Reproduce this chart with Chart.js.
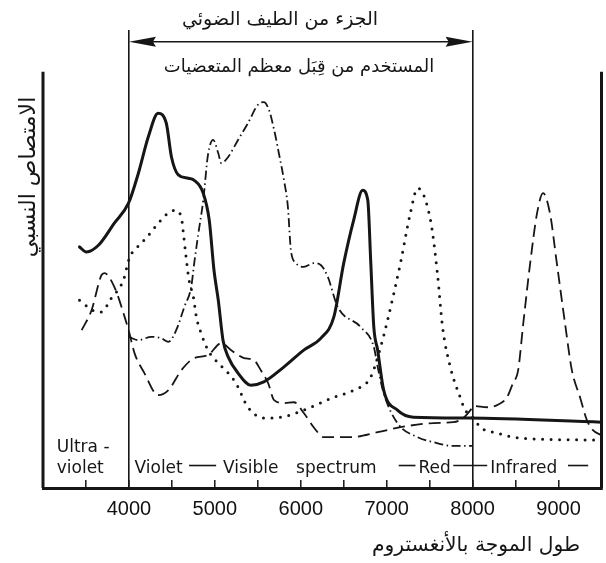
<!DOCTYPE html>
<html>
<head>
<meta charset="utf-8">
<script src="https://cdn.jsdelivr.net/npm/chart.js@4.4.0/dist/chart.umd.min.js"></script>
<style>
  html, body { margin: 0; padding: 0; background: #fff; }
  #wrap { width: 606px; height: 563px; }
</style>
</head>
<body>
<div id="wrap"><canvas id="chart" width="606" height="563"></canvas></div>
<script>
// wavelength in angstrom / relative absorption (0..100)
const solidX = [3425, 3505, 3645, 3830, 3995, 4110, 4225, 4340, 4435, 4495, 4575, 4690, 4760, 4865, 4935, 4990, 5040, 5095, 5155, 5270, 5420, 5570, 5805, 6035, 6235, 6385, 6500, 6615, 6720, 6780, 6815, 6850, 6895, 6965, 7125, 7310, 7940, 9500];
const solidY = [57.9, 56.7, 58.3, 63.6, 68.4, 75.6, 84.3, 90.0, 87.6, 79.5, 75.2, 74.4, 73.9, 70.8, 64.3, 52.3, 45.1, 35.5, 31.5, 27.6, 24.7, 25.5, 29.1, 33.1, 36.0, 41.1, 54.0, 64.3, 71.5, 69.1, 54.0, 38.7, 33.1, 23.5, 18.7, 17.0, 16.8, 15.8];

const dottedX = [3425, 3540, 3625, 3680, 3795, 3935, 4005, 4145, 4260, 4340, 4530, 4610, 4630, 4665, 4700, 4750, 4785, 4840, 4920, 5040, 5155, 5245, 5385, 5570, 5770, 6035, 6385, 6615, 6815, 6930, 7010, 7160, 7275, 7360, 7510, 7590, 7650, 7740, 7855, 7915, 8010, 8090, 8285, 8555, 9500];
const dottedY = [45.1, 43.2, 42.3, 42.3, 45.6, 49.9, 55.2, 58.8, 61.5, 63.6, 66.7, 65.1, 61.9, 55.5, 49.9, 45.9, 41.1, 37.2, 33.1, 30.0, 27.6, 25.2, 19.4, 16.8, 17.0, 18.7, 21.8, 23.5, 26.7, 33.9, 40.3, 54.0, 66.0, 72.0, 64.3, 51.6, 38.7, 29.1, 21.8, 18.7, 16.8, 14.6, 13.2, 12.0, 11.5];

const dashDotX = [4000, 4110, 4260, 4375, 4460, 4550, 4645, 4725, 4760, 4805, 4865, 4920, 4980, 5040, 5075, 5155, 5270, 5385, 5500, 5570, 5630, 5690, 5745, 5805, 5850, 5885, 5945, 6035, 6150, 6235, 6315, 6430, 6695, 6850, 6895, 6965, 7125, 7360, 7545, 7775, 8000];
const dashDotY = [36.3, 35.5, 36.3, 36.0, 35.1, 37.9, 43.5, 48.3, 54.0, 60.7, 69.1, 80.0, 83.6, 80.4, 78.0, 79.5, 83.6, 87.6, 92.0, 92.7, 90.8, 86.0, 80.4, 73.9, 67.5, 57.1, 54.0, 53.1, 54.0, 53.5, 50.7, 43.5, 38.7, 33.9, 29.1, 22.8, 15.6, 12.2, 11.0, 10.1, 10.1];

const dashedX = [3450, 3565, 3680, 3715, 3830, 3950, 4005, 4065, 4180, 4340, 4460, 4610, 4760, 4920, 5075, 5190, 5340, 5455, 5535, 5620, 5690, 5805, 5920, 6035, 6150, 6270, 6580, 6895, 7160, 7545, 7775, 7890, 7975, 8010, 8170, 8285, 8400, 8470, 8530, 8590, 8670, 8750, 8820, 8900, 8980, 9075, 9155, 9250, 9330, 9400, 9500];
const dashedY = [37.9, 42.7, 51.1, 51.6, 48.3, 41.1, 37.2, 32.4, 27.6, 22.3, 23.5, 28.3, 31.2, 31.9, 34.8, 33.1, 31.2, 30.7, 28.3, 25.2, 21.1, 20.4, 20.6, 18.0, 14.6, 12.2, 12.2, 13.4, 14.6, 15.6, 15.8, 16.8, 18.7, 19.7, 19.4, 19.9, 21.8, 25.2, 28.3, 39.6, 54.0, 66.0, 70.8, 66.0, 54.0, 39.6, 28.3, 21.8, 16.3, 13.9, 12.7];

const xTickLabels = [4000, 5000, 6000, 7000, 8000, 9000];
const bandEdges = [4000, 8000];
const frameTop = 100;
const arrowLevel = 107.2;

const titleText = 'الجزء من الطيف الضوئي';
const subtitleText = 'المستخدم من قِبَل معظم المتعضيات';
const yTitle = 'الامتصاص النسبي';
const xTitle = 'طول الموجة بالأنغستروم';

const ink = '#161616';
const arabicFont = '"DejaVu Sans", "Noto Sans", sans-serif';
const latinFont = '"DejaVu Sans", sans-serif';

function pts(xs, ys) {
  return xs.map((x, i) => ({ x: x, y: ys[i] }));
}

function curve(data, width, dash, cap) {
  return {
    data: data,
    borderColor: ink,
    borderWidth: width,
    borderDash: dash,
    borderCapStyle: cap || 'butt',
    borderJoinStyle: 'round',
    pointRadius: 0,
    cubicInterpolationMode: 'monotone',
    fill: false
  };
}

function frame(x) {
  return {
    data: [{ x: x, y: 0 }, { x: x, y: frameTop }],
    borderColor: ink,
    borderWidth: 3,
    pointRadius: 0,
    clip: false
  };
}

// set a font whose size makes the text about `width` wide
function fitFont(ctx, text, family, width, maxSize) {
  ctx.font = '100px ' + family;
  const w = ctx.measureText(text).width;
  const size = Math.min(maxSize, 100 * width / w);
  ctx.font = size.toFixed(1) + 'px ' + family;
}

const figureText = {
  id: 'figureText',
  afterDatasetsDraw(chart) {
    const ctx = chart.ctx;
    const xs = chart.scales.x;
    const ys = chart.scales.y;
    ctx.save();
    ctx.fillStyle = ink;
    ctx.strokeStyle = ink;

    // double arrow between the band edges
    const a1 = xs.getPixelForValue(bandEdges[0]);
    const a2 = xs.getPixelForValue(bandEdges[1]);
    const ay = ys.getPixelForValue(arrowLevel);
    ctx.lineWidth = 1.5;
    ctx.beginPath();
    ctx.moveTo(a1 + 20, ay);
    ctx.lineTo(a2 - 20, ay);
    ctx.stroke();
    ctx.beginPath();
    ctx.moveTo(a1, ay);
    ctx.lineTo(a1 + 27, ay - 5);
    ctx.lineTo(a1 + 24, ay);
    ctx.lineTo(a1 + 27, ay + 5);
    ctx.closePath();
    ctx.fill();
    ctx.beginPath();
    ctx.moveTo(a2, ay);
    ctx.lineTo(a2 - 27, ay - 5);
    ctx.lineTo(a2 - 24, ay);
    ctx.lineTo(a2 - 27, ay + 5);
    ctx.closePath();
    ctx.fill();

    // arabic titles
    ctx.direction = 'rtl';
    ctx.textAlign = 'center';
    ctx.textBaseline = 'middle';
    fitFont(ctx, titleText, arabicFont, 196, 22);
    ctx.fillText(titleText, 280, 20);
    fitFont(ctx, subtitleText, arabicFont, 270, 22);
    ctx.fillText(subtitleText, xs.getPixelForValue(5980), ys.getPixelForValue(101));
    fitFont(ctx, xTitle, arabicFont, 208, 22);
    ctx.fillText(xTitle, 476, 546);
    ctx.save();
    ctx.translate(29, 177);
    ctx.rotate(-Math.PI / 2);
    fitFont(ctx, yTitle, arabicFont, 200, 22);
    ctx.fillText(yTitle, 0, 0);
    ctx.restore();

    // spectrum band words along the bottom
    ctx.direction = 'ltr';
    ctx.textAlign = 'left';
    ctx.textBaseline = 'alphabetic';
    ctx.font = '17px ' + latinFont;
    const base = ys.getPixelForValue(3.6);
    ctx.fillText('Ultra -', xs.getPixelForValue(3160), ys.getPixelForValue(8.6));
    ctx.fillText('violet', xs.getPixelForValue(3160), base);
    [['Violet', 4065], ['Visible', 5095], ['spectrum', 5945], ['Red', 7370], ['Infrared', 8205]].forEach(w => {
      ctx.fillText(w[0], xs.getPixelForValue(w[1]), base);
    });
    ctx.lineWidth = 1.6;
    const dy = ys.getPixelForValue(5.4);
    [[4700, 5015], [7140, 7335], [7775, 8170], [9110, 9345]].forEach(d => {
      ctx.beginPath();
      ctx.moveTo(xs.getPixelForValue(d[0]), dy);
      ctx.lineTo(xs.getPixelForValue(d[1]), dy);
      ctx.stroke();
    });
    ctx.restore();
  }
};

new Chart(document.getElementById('chart'), {
  type: 'line',
  data: {
    datasets: [
      curve(pts(solidX, solidY), 3, [], 'round'),
      curve(pts(dottedX, dottedY), 3, [0, 8.5], 'round'),
      curve(pts(dashDotX, dashDotY), 1.8, [9, 3.5, 1.5, 3.5]),
      curve(pts(dashedX, dashedY), 1.8, [12, 6]),
      frame(3000),
      frame(9500)
    ]
  },
  options: {
    responsive: false,
    animation: false,
    events: [],
    layout: { padding: { left: 43, right: 4.5, top: 30, bottom: 0 } },
    plugins: {
      legend: { display: false },
      title: { display: false },
      tooltip: { enabled: false }
    },
    scales: {
      x: {
        type: 'linear',
        min: 3000,
        max: 9500,
        afterFit: (s) => {
          s.height = 75;
          s.paddingLeft = 0;
          s.paddingRight = 0;
        },
        border: { display: true, color: ink, width: 3 },
        grid: {
          drawOnChartArea: true,
          drawTicks: true,
          tickLength: -8,
          color: (c) => (c.tick && bandEdges.includes(c.tick.value)) ? ink : 'rgba(0,0,0,0)',
          lineWidth: 1.6,
          tickColor: ink,
          tickWidth: 1.5
        },
        ticks: {
          stepSize: 500,
          autoSkip: false,
          maxRotation: 0,
          padding: 17,
          color: '#111',
          font: { family: '"Liberation Sans", Arial, sans-serif', size: 20 },
          callback: (v) => xTickLabels.includes(v) ? String(v) : ''
        }
      },
      y: {
        display: false,
        min: 0,
        max: 110
      }
    }
  },
  plugins: [figureText]
});
</script>
</body>
</html>
